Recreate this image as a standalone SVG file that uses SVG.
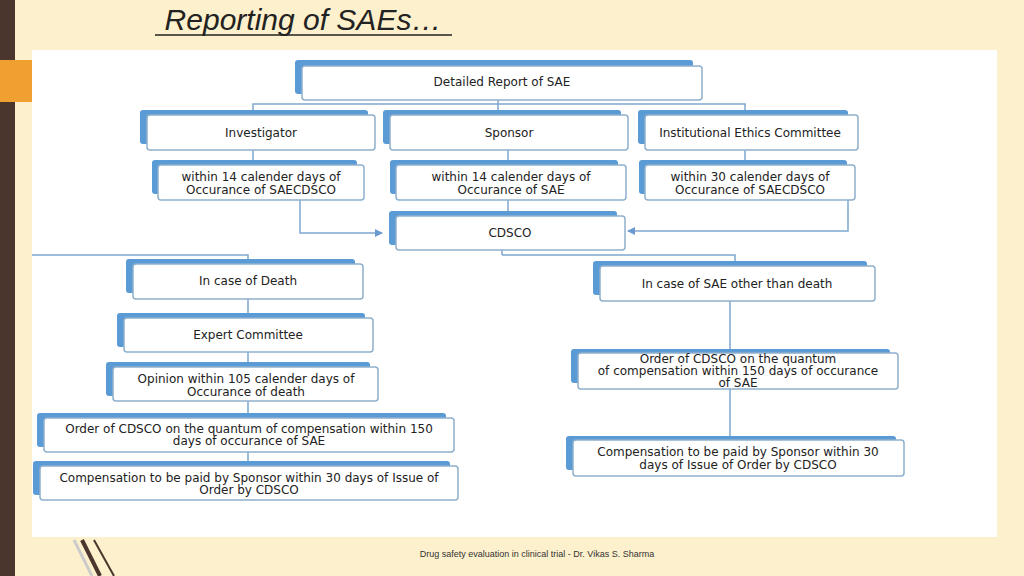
<svg xmlns="http://www.w3.org/2000/svg" width="1024" height="576" viewBox="0 0 1024 576">
<defs>
<marker id="ar" markerWidth="8" markerHeight="8" refX="7" refY="4" orient="auto" markerUnits="userSpaceOnUse"><path d="M0,0 L8,4 L0,8 Z" fill="#6a9ad0"/></marker>
</defs>
<style>
.bk{fill:#5b9bd5}
.bx{fill:#fff;stroke:#8fb0cc;stroke-width:1.5}
.t{font-family:"DejaVu Sans",sans-serif;font-size:12px;fill:#222;text-anchor:middle}
.c{fill:none;stroke:#7fa6cf;stroke-width:1.5}
</style>
<rect width="1024" height="576" fill="#fdf0cc"/>
<rect x="0" y="0" width="15" height="576" fill="#4a362c"/>
<rect x="0" y="60" width="32" height="42" fill="#f0a030"/>
<rect x="32" y="50" width="965" height="487" fill="#fff"/>
<line x1="82" y1="540" x2="100" y2="576" stroke="#4a362c" stroke-width="4"/>
<line x1="94" y1="540" x2="114" y2="576" stroke="#4a362c" stroke-width="2"/>
<line x1="74" y1="540" x2="92" y2="576" stroke="#ccc" stroke-width="3"/>
<text x="303" y="30" font-family="'Liberation Sans',sans-serif" font-style="italic" font-size="30" fill="#222" text-anchor="middle">Reporting of SAEs…</text>
<line x1="155" y1="35" x2="452" y2="35" stroke="#222" stroke-width="1.5"/>
<text x="537" y="557" font-family="'Liberation Sans',sans-serif" font-size="9" fill="#333" text-anchor="middle">Drug safety evaluation in clinical trial - Dr. Vikas S. Sharma</text>
<g id="connectors">
<path class="c" d="M498,100 V104 M253,115 V104 H745 V115 M498,104 V115"/>
<path class="c" d="M253,150 V165 M508,150 V165 M745,150 V165"/>
<path class="c" d="M300,200 V233 H382" marker-end="url(#ar)"/>
<path class="c" d="M848,200 V231 H628" marker-end="url(#ar)"/>
<path class="c" d="M508,200 V212"/>
<path class="c" d="M502,250 V255 M32,255 H248 V264 M502,255 H735 V266"/>
<path class="c" d="M248,299 V318 M248,352 V367 M248,401 V418 M248,452 V466"/>
<path class="c" d="M730,301 V351 M730,389 V440"/>
</g>
<g id="n1"><rect class="bk" x="295" y="60" width="398" height="34" rx="3"/><rect class="bx" x="302" y="66" width="400" height="34" rx="3"/><text class="t" x="502" y="86">Detailed Report of SAE</text></g>
<g id="n2"><rect class="bk" x="140" y="110" width="228" height="34" rx="3"/><rect class="bx" x="147" y="115" width="228" height="35" rx="3"/><text class="t" x="261" y="137">Investigator</text></g>
<g id="n3"><rect class="bk" x="383" y="110" width="238" height="34" rx="3"/><rect class="bx" x="390" y="115" width="238" height="35" rx="3"/><text class="t" x="509" y="137">Sponsor</text></g>
<g id="n4"><rect class="bk" x="638" y="110" width="210" height="34" rx="3"/><rect class="bx" x="645" y="115" width="213" height="35" rx="3"/><text class="t" x="750" y="137">Institutional Ethics Committee</text></g>
<g id="n5"><rect class="bk" x="152" y="160" width="205" height="34" rx="3"/><rect class="bx" x="158" y="165" width="206" height="35" rx="3"/><text class="t" x="261" y="181">within 14 calender days of</text><text class="t" x="261" y="194">Occurance of SAECDSCO</text></g>
<g id="n6"><rect class="bk" x="390" y="160" width="228" height="34" rx="3"/><rect class="bx" x="396" y="165" width="230" height="35" rx="3"/><text class="t" x="511" y="181">within 14 calender days of</text><text class="t" x="511" y="194">Occurance of SAE</text></g>
<g id="n7"><rect class="bk" x="639" y="160" width="208" height="34" rx="3"/><rect class="bx" x="645" y="165" width="210" height="35" rx="3"/><text class="t" x="750" y="181">within 30 calender days of</text><text class="t" x="750" y="194">Occurance of SAECDSCO</text></g>
<g id="n8"><rect class="bk" x="389" y="211" width="228" height="34" rx="3"/><rect class="bx" x="396" y="216" width="229" height="34" rx="3"/><text class="t" x="510" y="237">CDSCO</text></g>
<g id="n9"><rect class="bk" x="126" y="259" width="229" height="34" rx="3"/><rect class="bx" x="133" y="264" width="230" height="35" rx="3"/><text class="t" x="248" y="285">In case of Death</text></g>
<g id="n10"><rect class="bk" x="593" y="261" width="274" height="34" rx="3"/><rect class="bx" x="600" y="266" width="275" height="35" rx="3"/><text class="t" x="737" y="288">In case of SAE other than death</text></g>
<g id="n11"><rect class="bk" x="117" y="313" width="248" height="34" rx="3"/><rect class="bx" x="124" y="318" width="249" height="34" rx="3"/><text class="t" x="248" y="339">Expert Committee</text></g>
<g id="n12"><rect class="bk" x="106" y="362" width="264" height="34" rx="3"/><rect class="bx" x="113" y="367" width="265" height="34" rx="3"/><text class="t" x="246" y="383">Opinion within 105 calender days of</text><text class="t" x="246" y="396">Occurance of death</text></g>
<g id="n13"><rect class="bk" x="37" y="413" width="409" height="34" rx="3"/><rect class="bx" x="44" y="418" width="410" height="34" rx="3"/><text class="t" x="249" y="433">Order of CDSCO on the quantum of  compensation  within 150</text><text class="t" x="249" y="445">days of occurance of SAE</text></g>
<g id="n14"><rect class="bk" x="33" y="461" width="417" height="34" rx="3"/><rect class="bx" x="40" y="466" width="418" height="34" rx="3"/><text class="t" x="249" y="482">Compensation to be paid by Sponsor within 30 days of Issue of</text><text class="t" x="249" y="494">Order by CDSCO</text></g>
<g id="n15"><rect class="bk" x="571" y="349" width="319" height="34" rx="3"/><rect class="bx" x="578" y="353" width="320" height="36" rx="3"/><text class="t" x="738" y="363">Order of CDSCO on the quantum</text><text class="t" x="738" y="375">of  compensation  within 150 days of occurance</text><text class="t" x="738" y="387">of SAE</text></g>
<g id="n16"><rect class="bk" x="566" y="436" width="330" height="34" rx="3"/><rect class="bx" x="573" y="440" width="331" height="36" rx="3"/><text class="t" x="738" y="456">Compensation to be paid by Sponsor within 30</text><text class="t" x="738" y="469">days of Issue of Order by CDSCO</text></g>
</svg>
